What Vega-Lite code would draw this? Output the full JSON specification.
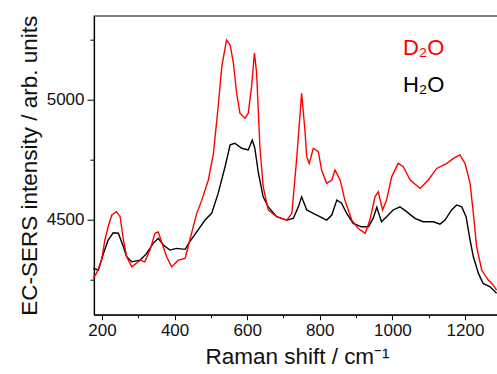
{
  "$schema": "https://vega.github.io/schema/vega-lite/v6.json",
  "autosize": "none",
  "padding": {"left": 94, "top": 15.7, "right": 0, "bottom": 59},
  "width": 406,
  "height": 299,
  "background": "white",
  "config": {
    "view": {"stroke": "black", "strokeWidth": 1.2},
    "font": "Liberation Sans",
    "axis": {"domainColor": "black", "tickColor": "black", "labelColor": "#111", "titleColor": "#111", "labelFont": "Liberation Sans", "titleFont": "Liberation Sans", "labelFontSize": 17, "titleFontSize": 22.5, "titleFontWeight": "normal", "grid": false, "domainWidth": 1.2, "tickWidth": 1}
  },
  "datasets": {
    "h2o": [
      {"shift": 176, "intensity": 4296}, {"shift": 190, "intensity": 4289}, {"shift": 204, "intensity": 4358}, {"shift": 217, "intensity": 4414}, {"shift": 231, "intensity": 4444}, {"shift": 245, "intensity": 4442}, {"shift": 259, "intensity": 4386}, {"shift": 268, "intensity": 4344}, {"shift": 282, "intensity": 4323}, {"shift": 305, "intensity": 4330}, {"shift": 323, "intensity": 4358}, {"shift": 341, "intensity": 4400}, {"shift": 355, "intensity": 4421}, {"shift": 369, "intensity": 4393}, {"shift": 387, "intensity": 4372}, {"shift": 405, "intensity": 4379}, {"shift": 429, "intensity": 4375}, {"shift": 442, "intensity": 4407}, {"shift": 461, "intensity": 4448}, {"shift": 484, "intensity": 4497}, {"shift": 502, "intensity": 4525}, {"shift": 520, "intensity": 4608}, {"shift": 539, "intensity": 4719}, {"shift": 553, "intensity": 4810}, {"shift": 566, "intensity": 4817}, {"shift": 585, "intensity": 4796}, {"shift": 603, "intensity": 4789}, {"shift": 614, "intensity": 4830}, {"shift": 621, "intensity": 4796}, {"shift": 631, "intensity": 4692}, {"shift": 644, "intensity": 4594}, {"shift": 658, "intensity": 4552}, {"shift": 681, "intensity": 4511}, {"shift": 709, "intensity": 4497}, {"shift": 727, "intensity": 4504}, {"shift": 741, "intensity": 4552}, {"shift": 750, "intensity": 4594}, {"shift": 764, "intensity": 4539}, {"shift": 773, "intensity": 4532}, {"shift": 782, "intensity": 4525}, {"shift": 800, "intensity": 4511}, {"shift": 819, "intensity": 4497}, {"shift": 833, "intensity": 4518}, {"shift": 847, "intensity": 4580}, {"shift": 860, "intensity": 4567}, {"shift": 874, "intensity": 4525}, {"shift": 892, "intensity": 4483}, {"shift": 915, "intensity": 4469}, {"shift": 934, "intensity": 4469}, {"shift": 947, "intensity": 4504}, {"shift": 957, "intensity": 4550}, {"shift": 970, "intensity": 4490}, {"shift": 984, "intensity": 4511}, {"shift": 1002, "intensity": 4539}, {"shift": 1021, "intensity": 4552}, {"shift": 1039, "intensity": 4532}, {"shift": 1062, "intensity": 4504}, {"shift": 1085, "intensity": 4490}, {"shift": 1113, "intensity": 4490}, {"shift": 1131, "intensity": 4480}, {"shift": 1145, "intensity": 4497}, {"shift": 1163, "intensity": 4539}, {"shift": 1177, "intensity": 4560}, {"shift": 1191, "intensity": 4552}, {"shift": 1203, "intensity": 4511}, {"shift": 1214, "intensity": 4414}, {"shift": 1223, "intensity": 4344}, {"shift": 1237, "intensity": 4275}, {"shift": 1250, "intensity": 4233}, {"shift": 1269, "intensity": 4219}, {"shift": 1287, "intensity": 4192}
    ],
    "d2o": [
      {"shift": 176, "intensity": 4254}, {"shift": 185, "intensity": 4276}, {"shift": 199, "intensity": 4330}, {"shift": 208, "intensity": 4414}, {"shift": 217, "intensity": 4469}, {"shift": 227, "intensity": 4518}, {"shift": 240, "intensity": 4532}, {"shift": 250, "intensity": 4511}, {"shift": 259, "intensity": 4414}, {"shift": 268, "intensity": 4344}, {"shift": 282, "intensity": 4302}, {"shift": 305, "intensity": 4330}, {"shift": 318, "intensity": 4323}, {"shift": 332, "intensity": 4372}, {"shift": 346, "intensity": 4442}, {"shift": 355, "intensity": 4448}, {"shift": 364, "intensity": 4407}, {"shift": 378, "intensity": 4344}, {"shift": 392, "intensity": 4302}, {"shift": 410, "intensity": 4330}, {"shift": 429, "intensity": 4337}, {"shift": 442, "intensity": 4414}, {"shift": 461, "intensity": 4525}, {"shift": 475, "intensity": 4580}, {"shift": 493, "intensity": 4664}, {"shift": 507, "intensity": 4775}, {"shift": 520, "intensity": 4969}, {"shift": 530, "intensity": 5136}, {"shift": 543, "intensity": 5247}, {"shift": 553, "intensity": 5226}, {"shift": 562, "intensity": 5150}, {"shift": 571, "intensity": 5025}, {"shift": 580, "intensity": 4942}, {"shift": 594, "intensity": 4921}, {"shift": 603, "intensity": 4942}, {"shift": 612, "intensity": 5052}, {"shift": 620, "intensity": 5192}, {"shift": 626, "intensity": 5108}, {"shift": 635, "intensity": 4802}, {"shift": 644, "intensity": 4636}, {"shift": 658, "intensity": 4539}, {"shift": 681, "intensity": 4511}, {"shift": 709, "intensity": 4497}, {"shift": 723, "intensity": 4525}, {"shift": 736, "intensity": 4747}, {"shift": 750, "intensity": 5025}, {"shift": 759, "intensity": 4872}, {"shift": 764, "intensity": 4761}, {"shift": 771, "intensity": 4733}, {"shift": 782, "intensity": 4796}, {"shift": 796, "intensity": 4782}, {"shift": 805, "intensity": 4705}, {"shift": 819, "intensity": 4650}, {"shift": 833, "intensity": 4664}, {"shift": 842, "intensity": 4705}, {"shift": 856, "intensity": 4664}, {"shift": 869, "intensity": 4580}, {"shift": 888, "intensity": 4497}, {"shift": 906, "intensity": 4462}, {"shift": 925, "intensity": 4442}, {"shift": 938, "intensity": 4497}, {"shift": 952, "intensity": 4594}, {"shift": 961, "intensity": 4615}, {"shift": 973, "intensity": 4539}, {"shift": 984, "intensity": 4580}, {"shift": 998, "intensity": 4677}, {"shift": 1016, "intensity": 4733}, {"shift": 1030, "intensity": 4719}, {"shift": 1049, "intensity": 4664}, {"shift": 1076, "intensity": 4629}, {"shift": 1099, "intensity": 4664}, {"shift": 1122, "intensity": 4712}, {"shift": 1150, "intensity": 4733}, {"shift": 1168, "intensity": 4754}, {"shift": 1186, "intensity": 4768}, {"shift": 1200, "intensity": 4733}, {"shift": 1214, "intensity": 4650}, {"shift": 1223, "intensity": 4525}, {"shift": 1232, "intensity": 4386}, {"shift": 1246, "intensity": 4289}, {"shift": 1264, "intensity": 4247}, {"shift": 1278, "intensity": 4226}, {"shift": 1287, "intensity": 4205}
    ],
    "labels": [
      {"shift": 1029, "intensity": 5214, "name": "D₂O", "col": "red"},
      {"shift": 1029, "intensity": 5060, "name": "H₂O", "col": "black"}
    ]
  },
  "encoding": {
    "x": {"field": "shift", "type": "quantitative", "scale": {"domain": [178, 1296.4], "nice": false, "zero": false},
      "axis": {"title": "Raman shift / cm⁻¹", "values": [200, 300, 400, 500, 600, 700, 800, 900, 1000, 1100, 1200], "labelExpr": "datum.value % 200 === 0 ? datum.label : ''", "format": "d", "tickSize": {"condition": {"test": "datum.value % 200 === 0", "value": 5}, "value": 3}, "labelPadding": 3, "titlePadding": 7, "labelFlush": false}},
    "y": {"field": "intensity", "type": "quantitative", "scale": {"domain": [4103, 5348], "nice": false, "zero": false},
      "axis": {"title": "EC-SERS intensity / arb. units", "values": [4250, 4500, 4750, 5000, 5250], "labelExpr": "datum.value % 500 === 0 ? datum.label : ''", "format": "d", "tickSize": {"condition": {"test": "datum.value % 500 === 0", "value": 7}, "value": 4}, "labelPadding": 3, "titlePadding": 5, "labelFlush": false}}
  },
  "layer": [
    {"data": {"name": "h2o"}, "mark": {"type": "line", "color": "black", "strokeWidth": 1.4}},
    {"data": {"name": "d2o"}, "mark": {"type": "line", "color": "#ff0000", "strokeWidth": 1.4}},
    {"data": {"name": "labels"}, "mark": {"type": "text", "align": "left", "baseline": "middle", "fontSize": 22, "font": "Liberation Sans"},
      "encoding": {"text": {"field": "name"}, "color": {"field": "col", "type": "nominal", "scale": null}}}
  ]
}
